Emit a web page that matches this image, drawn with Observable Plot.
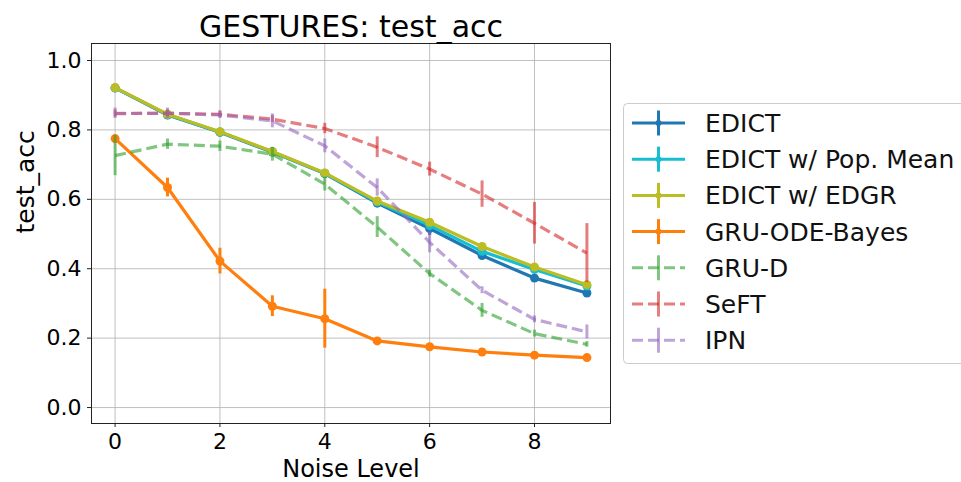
<!DOCTYPE html>
<html><head><meta charset="utf-8">
<script src="https://cdn.jsdelivr.net/npm/d3@7"></script>
<script src="https://cdn.jsdelivr.net/npm/@observablehq/plot@0.6"></script>
<style>
html,body{margin:0;padding:0;background:#fff;overflow:hidden}
#wrap{position:relative;width:961px;height:482px;font-family:"DejaVu Sans",sans-serif}
#legend{position:absolute;left:623px;top:103px}
</style></head><body><div id="wrap"></div>
<script>
// ---- data ----
const noiseLevels = [0, 1, 2, 3, 4, 5, 6, 7, 8, 9];
const xTicks = [0, 2, 4, 6, 8];
const yTicks = [0.0, 0.2, 0.4, 0.6, 0.8, 1.0];
const seriesNames = ["EDICT", "EDICT w/ Pop. Mean", "EDICT w/ EDGR", "GRU-ODE-Bayes", "GRU-D", "SeFT", "IPN"];

const edictMean   = [0.921, 0.843, 0.793, 0.736, 0.674, 0.589, 0.516, 0.438, 0.373, 0.330];
const edictErr    = [0.005, 0.005, 0.005, 0.005, 0.008, 0.010, 0.020, 0.010, 0.008, 0.006];
const popMean     = [0.921, 0.844, 0.794, 0.737, 0.675, 0.592, 0.525, 0.450, 0.398, 0.350];
const popErr      = [0.005, 0.005, 0.005, 0.005, 0.008, 0.010, 0.015, 0.010, 0.008, 0.006];
const edgrMean    = [0.922, 0.845, 0.795, 0.738, 0.676, 0.595, 0.534, 0.464, 0.405, 0.354];
const edgrErr     = [0.005, 0.005, 0.005, 0.005, 0.008, 0.008, 0.010, 0.010, 0.008, 0.006];
const gruOdeMean  = [0.775, 0.634, 0.422, 0.292, 0.256, 0.192, 0.175, 0.160, 0.151, 0.144];
const gruOdeErr   = [0.008, 0.027, 0.037, 0.030, 0.085, 0.006, 0.005, 0.005, 0.005, 0.004];
const gruDMean    = [0.726, 0.759, 0.753, 0.730, 0.644, 0.520, 0.386, 0.280, 0.213, 0.182];
const gruDErr     = [0.058, 0.015, 0.015, 0.020, 0.020, 0.030, 0.010, 0.020, 0.010, 0.008];
const seftMean    = [0.847, 0.848, 0.845, 0.831, 0.804, 0.750, 0.687, 0.615, 0.531, 0.445];
const seftErr     = [0.010, 0.010, 0.010, 0.010, 0.015, 0.030, 0.020, 0.038, 0.060, 0.085];
const ipnMean     = [0.848, 0.848, 0.843, 0.826, 0.754, 0.634, 0.476, 0.338, 0.254, 0.218];
const ipnErr      = [0.015, 0.015, 0.010, 0.020, 0.020, 0.025, 0.030, 0.010, 0.010, 0.020];

// ---- styles ----
const seriesColors = ["#1f77b4", "#17becf", "#bcbd22", "#ff7f0e", "#2ca02c", "#d62728", "#9467bd"];
const seriesDashed = [false, false, false, false, true, true, true];

const means = [edictMean, popMean, edgrMean, gruOdeMean, gruDMean, seftMean, ipnMean];
const errs = [edictErr, popErr, edgrErr, gruOdeErr, gruDErr, seftErr, ipnErr];

const FONT = "DejaVu Sans";
const marks = [
  Plot.gridX(xTicks, {stroke: "#b0b0b0", strokeOpacity: 1, strokeWidth: 0.8}),
  Plot.gridY(yTicks, {stroke: "#b0b0b0", strokeOpacity: 1, strokeWidth: 0.8})
];

seriesNames.forEach((name, i) => {
  const rows = noiseLevels.map((x, j) => ({series: name, x, y: means[i][j], lo: means[i][j] - errs[i][j], hi: means[i][j] + errs[i][j]}));
  const color = seriesColors[i];
  const op = seriesDashed[i] ? 0.6 : 1;
  marks.push(Plot.line(rows, {x: "x", y: "y", stroke: color, strokeWidth: 3.2, strokeOpacity: op,
    strokeDasharray: seriesDashed[i] ? "11,5" : null, strokeLinecap: seriesDashed[i] ? "butt" : "round"}));
  marks.push(Plot.ruleX(rows, {x: "x", y1: "lo", y2: "hi", stroke: color, strokeWidth: 3, strokeOpacity: op}));
  if (!seriesDashed[i]) {
    marks.push(Plot.dot(rows, {x: "x", y: "y", r: 4.5, fill: color, stroke: "none"}));
  }
});

marks.push(
  Plot.frame({stroke: "#222", strokeWidth: 1}),
  Plot.axisX(xTicks, {tickSize: 4, tickPadding: 6, fontSize: 22, label: null, stroke: "#222"}),
  Plot.axisY(yTicks, {tickSize: 4, tickPadding: 6, fontSize: 22, label: null, tickFormat: d3.format(".1f"), stroke: "#222"}),
  Plot.text(["GESTURES: test_acc"], {frameAnchor: "top", lineAnchor: "bottom", dy: -7, fontSize: 30, fill: "black"}),
  Plot.text(["Noise Level"], {frameAnchor: "bottom", lineAnchor: "bottom", dy: 53.5, fontSize: 24, fill: "black"}),
  Plot.text(["test_acc"], {frameAnchor: "left", lineAnchor: "bottom", rotate: -90, dx: -58, fontSize: 25, fill: "black"})
);

const chart = Plot.plot({
  width: 961, height: 482,
  marginLeft: 91, marginRight: 351, marginTop: 43, marginBottom: 59,
  x: {domain: [-0.45, 9.45]},
  y: {domain: [-0.046, 1.049]},
  style: {fontFamily: FONT, background: "white", color: "black"},
  marks
});
const wrap = document.getElementById("wrap");
wrap.appendChild(chart);

// ---- legend ----
const LW = 345, LH = 261, rowH = 36.2, firstY = 20;
const leg = d3.create("svg").attr("id", "legend").attr("width", LW).attr("height", LH)
  .style("font-family", FONT);
leg.append("rect").attr("x", 0.5).attr("y", 0.5).attr("width", LW + 10).attr("height", LH - 1)
  .attr("rx", 4).attr("fill", "white").attr("fill-opacity", 0.8).attr("stroke", "#cccccc");
seriesNames.forEach((name, i) => {
  const cy = firstY + i * rowH;
  const g = leg.append("g");
  const op = seriesDashed[i] ? 0.6 : 1;
  g.append("line").attr("x1", 9).attr("x2", 62).attr("y1", cy).attr("y2", cy)
    .attr("stroke", seriesColors[i]).attr("stroke-width", 3).attr("stroke-opacity", op)
    .attr("stroke-dasharray", seriesDashed[i] ? "11,5" : null);
  g.append("line").attr("x1", 35.5).attr("x2", 35.5).attr("y1", cy - 12.5).attr("y2", cy + 12.5)
    .attr("stroke", seriesColors[i]).attr("stroke-width", 3).attr("stroke-opacity", op);
  if (!seriesDashed[i]) g.append("circle").attr("cx", 35.5).attr("cy", cy).attr("r", 3).attr("fill", seriesColors[i]);
  g.append("text").attr("x", 82).attr("y", cy).attr("dy", "0.36em").attr("font-size", 25).attr("fill", "#111").text(name);
});
wrap.appendChild(leg.node());
</script></body></html>
